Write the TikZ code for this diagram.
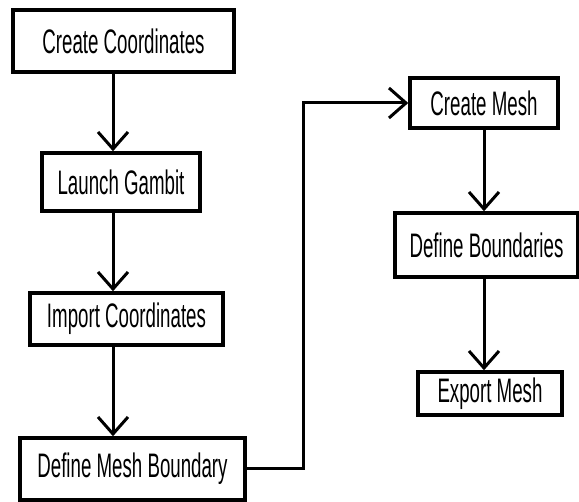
\documentclass[tikz,border=0pt]{standalone}
\usepackage{fontspec}
\setmainfont{Liberation Sans}[FakeStretch=0.55]
\usetikzlibrary{arrows.meta,positioning,calc}

\begin{document}
\begin{tikzpicture}[
  x=1pt,y=1pt,
  font=\fontsize{34}{36}\selectfont,
  bx/.style ={draw,line width=3.5pt,align=center,inner sep=0pt,fill=white},
  ar/.style ={-{Straight Barb[length=17pt,width=30pt,line width=3pt]},line width=3pt}
]
\useasboundingbox (0,0) rectangle (579,-502);

% ======== left column
\node[bx,minimum width=221,minimum height=62] (cc)  at (123.5,-41)  {Create Coordinates};
\node[bx,minimum width=158,minimum height=58] (lg)  at (121,-182)   {Launch Gambit};
\node[bx,minimum width=193,minimum height=52] (ic)  at (126.5,-319) {Import Coordinates};
\node[bx,minimum width=225,minimum height=62] (dmb) at (132.5,-469) {Define Mesh Boundary};

% ======== right column
\node[bx,minimum width=148,minimum height=50] (cm) at (484,-103)   {Create Mesh};
\node[bx,minimum width=183,minimum height=64] (db) at (486.5,-245) {Define Boundaries};
\node[bx,minimum width=144,minimum height=43] (em) at (490,-393.5) {Export Mesh};

% ======== arrows
\coordinate (ls) at (113,0);   % left spine
\coordinate (rs) at (484,0);   % right spine
\coordinate (bd) at (303,0);   % link column
\draw[ar] (cc.south -| ls) -- (lg.north -| ls);
\draw[ar] (lg.south -| ls) -- (ic.north -| ls);
\draw[ar] (ic.south -| ls) -- (dmb.north -| ls);
\draw[ar] (dmb.east) -- (dmb.east -| bd) -- (bd |- cm.west) -- (cm.west);
\draw[ar] (cm.south -| rs) -- (db.north -| rs);
\draw[ar] (db.south -| rs) -- (em.north -| rs);
\end{tikzpicture}
\end{document}
